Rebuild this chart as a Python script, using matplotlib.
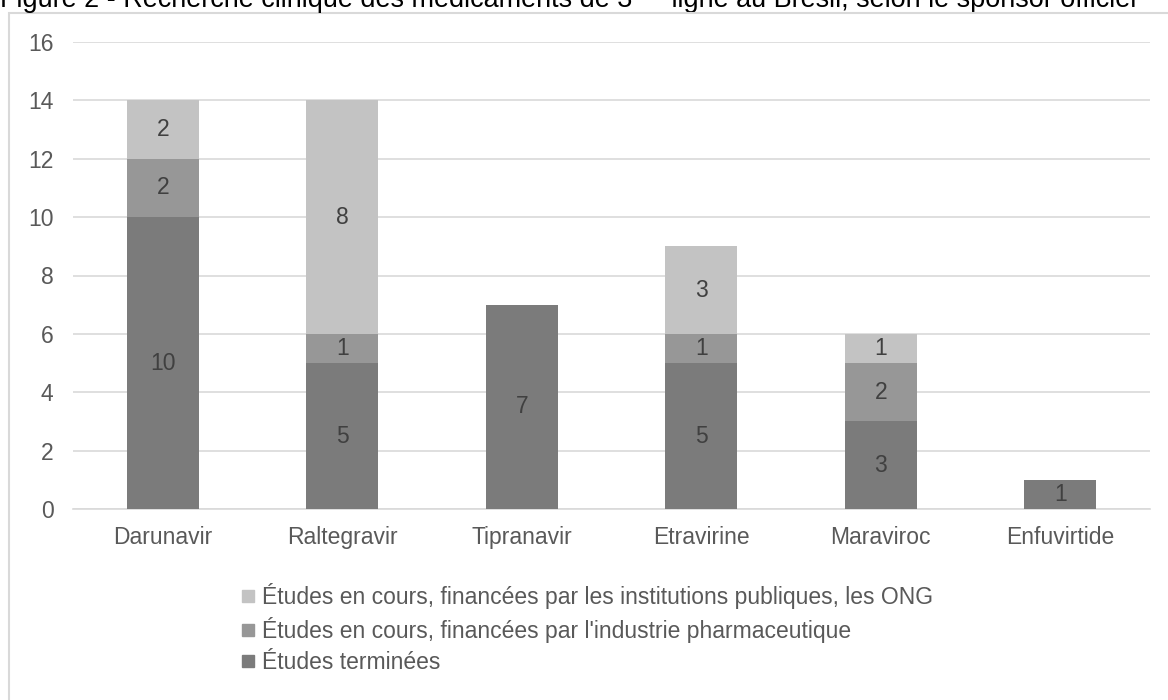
import numpy as np
from matplotlib import pyplot as plt
from matplotlib.lines import Line2D
from matplotlib.patches import Rectangle

# données
medicaments = ['Darunavir', 'Raltegravir', 'Tipranavir', 'Etravirine', 'Maraviroc', 'Enfuvirtide']
terminees = [10, 5, 7, 5, 3, 1]
industrie = [2, 1, 0, 1, 2, 0]
publiques = [2, 8, 0, 3, 1, 0]

noms_series = [
    "Études en cours, financées par les institutions publiques, les ONG",
    "Études en cours, financées par l'industrie pharmaceutique",
    "Études terminées",
]
couleurs = ['#c3c3c3', '#979797', '#7b7b7b']

plt.rcParams['font.family'] = ['Liberation Sans', 'DejaVu Sans']
taille = 16.5

fig = plt.figure(figsize=(11.68, 7.0), dpi=100)
fig.patch.set_facecolor('white')

# cadre gris autour du graphique
fig.patches.append(Rectangle((9 / 1168, -0.05), 1.1, 0.05 + (700 - 13) / 700,
                             transform=fig.transFigure, fill=False,
                             edgecolor='#d9d9d9', linewidth=1.5))

ax = fig.add_axes([73 / 1168, 1 - 509 / 700, (1150 - 73) / 1168, (509 - 42) / 700])

# titre (coupé en haut dans l'original)
taille_titre = 20
t1 = fig.text(0.0, 1 - 7 / 700, "Figure 2 - Recherche clinique des médicaments de 3",
              fontsize=taille_titre, color='black', ha='left', va='baseline')
t2 = ax.annotate("ème", xy=(1, 0.8), xycoords=t1, ha='left', va='bottom',
                 fontsize=taille_titre * 0.6, annotation_clip=False)
t3 = ax.annotate(" ligne au Brésil, selon le sponsor officiel", xy=(1, 0), xycoords=(t2, t1),
                 ha='left', va='bottom', fontsize=taille_titre, annotation_clip=False)

x = np.arange(len(medicaments))
largeur = 0.40
bas = np.zeros(len(medicaments))
for valeurs, couleur in zip([terminees, industrie, publiques], couleurs[::-1]):
    barres = ax.bar(x, valeurs, largeur, bottom=bas, color=couleur, zorder=3)
    for b, v in zip(barres, valeurs):
        if v > 0:
            ax.text(b.get_x() + b.get_width() / 2, b.get_y() + v / 2, str(v),
                    ha='center', va='center', fontsize=taille, color='#404040', zorder=4)
    bas += np.array(valeurs)

ax.set_xlim(-0.5, len(medicaments) - 0.5)
ax.set_ylim(0, 16)
ax.set_yticks(range(0, 17, 2))
ax.set_xticks(x)
ax.set_xticklabels(medicaments)
ax.tick_params(axis='both', length=0, labelsize=taille, colors='#595959')
ax.tick_params(axis='x', pad=12)
ax.tick_params(axis='y', pad=14)
ax.grid(axis='y', color='#d9d9d9', linewidth=1.2, zorder=0)
for s in ['top', 'right', 'left']:
    ax.spines[s].set_visible(False)
ax.spines['bottom'].set_color('#d9d9d9')
ax.spines['bottom'].set_linewidth(1.2)

poignees = [Line2D([0], [0], marker='s', linestyle='', markersize=9,
                   markerfacecolor=c, markeredgecolor=c) for c in couleurs]
leg = fig.legend(poignees, noms_series, loc='upper left', bbox_to_anchor=(232 / 1168, 1 - 574 / 700),
                 frameon=False, fontsize=taille, handlelength=0.6, handletextpad=0.3,
                 labelspacing=0.35, borderaxespad=0)
for t in leg.get_texts():
    t.set_color('#595959')

# ajuster la taille du titre pour qu'il finisse vers x = 1133 px
fig.canvas.draw()
droite = t3.get_window_extent().x1
facteur = 1133 / droite
t1.set_fontsize(taille_titre * facteur)
t2.set_fontsize(taille_titre * 0.6 * facteur)
t3.set_fontsize(taille_titre * facteur)

plt.savefig('out.png', dpi=100)
